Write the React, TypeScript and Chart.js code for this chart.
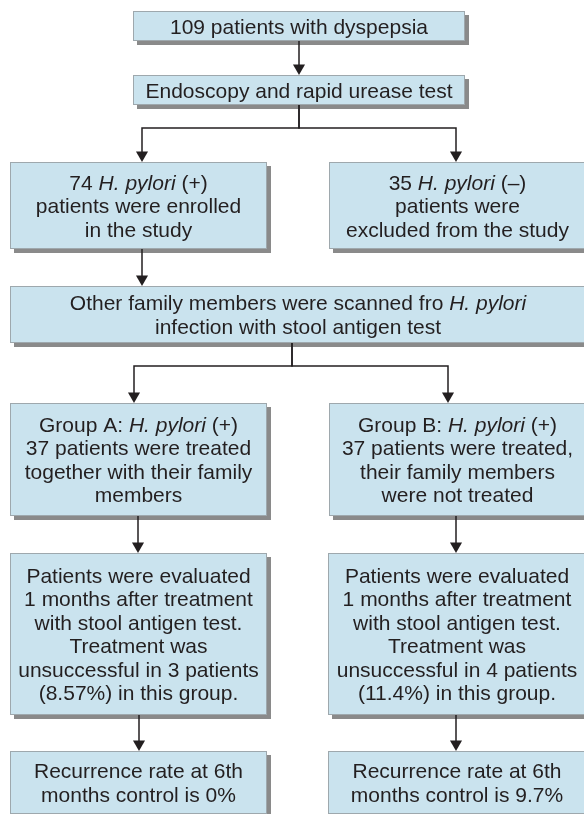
import React, { useEffect, useRef } from "react";
import { Chart, registerables } from "chart.js";

Chart.register(...registerables);

// ---------- CONTENT (text of each box; *...* = italic) ----------
const startBox = ["109 patients with dyspepsia"];
const testBox = ["Endoscopy and rapid urease test"];
const enrolledBox = ["74 *H. pylori* (+)", "patients were enrolled", "in the study"];
const excludedBox = ["35 *H. pylori* (–)", "patients were", "excluded from the study"];
const familyBox = ["Other family members were scanned fro *H. pylori*", "infection with stool antigen test"];
const groupABox = ["Group A: *H. pylori* (+)", "37 patients were treated", "together with their family", "members"];
const groupBBox = ["Group B: *H. pylori* (+)", "37 patients were treated,", "their family members", "were not treated"];
const evalABox = [
  "Patients were evaluated",
  "1 months after treatment",
  "with stool antigen test.",
  "Treatment was",
  "unsuccessful in 3 patients",
  "(8.57%) in this group.",
];
const evalBBox = [
  "Patients were evaluated",
  "1 months after treatment",
  "with stool antigen test.",
  "Treatment was",
  "unsuccessful in 4 patients",
  "(11.4%) in this group.",
];
const recurABox = ["Recurrence rate at 6th", "months control is 0%"];
const recurBBox = ["Recurrence rate at 6th", "months control is 9.7%"];

const boxTexts = [startBox, testBox, enrolledBox, excludedBox, familyBox, groupABox, groupBBox, evalABox, evalBBox, recurABox, recurBBox];

// ---------- LAYOUT (in scale units = page pixels) ----------
const BOX_X0 = [133, 133, 10, 329, 10, 10, 329, 10, 328, 10, 328];
const BOX_X1 = [465, 465, 267, 586, 586, 267, 586, 267, 586, 267, 586];
const BOX_Y0 = [11, 75, 162, 162, 286, 403, 403, 553, 553, 751, 751];
const BOX_Y1 = [41, 105, 249, 249, 343, 516, 516, 715, 715, 814, 814];

// edges: from box, to box, start x, end x, optional bus y
const EDGE_FROM = [0, 1, 1, 2, 4, 4, 5, 6, 7, 8];
const EDGE_TO = [1, 2, 3, 4, 5, 6, 7, 8, 9, 10];
const EDGE_X1 = [299, 299, 299, 142, 292, 292, 138, 456, 139, 456];
const EDGE_X2 = [299, 142, 456, 142, 134, 448, 138, 456, 139, 456];
const EDGE_BUS: (number | null)[] = [null, 128, 128, null, 366, 366, null, null, null, null];

// ---------- STYLE ----------
const FONT_FAMILY = '"Liberation Sans", Arial, Helvetica, sans-serif';
const FONT_SIZE = 21;
const LINE_H = 23.5;
const CAP = 0.716;
const INK = "#231f20";
const FILL = "#cae3ee";
const BORDER = "#9ea8ad";
const SHADOW = "#8a8a8a";
const SHADOW_OFF = 4;
const HEAD_R = 7;

function parseSegments(line: string) {
  const parts = line.split("*");
  return parts.map((t, i) => ({ text: t, italic: i % 2 === 1 })).filter((s) => s.text.length > 0);
}

const boxPlugin = {
  id: "flowBoxes",
  beforeDatasetsDraw(chart: any) {
    const { ctx, scales } = chart;
    const sx = scales.x;
    const sy = scales.y;
    ctx.save();
    for (let i = 0; i < boxTexts.length; i++) {
      const x0 = Math.round(sx.getPixelForValue(BOX_X0[i]));
      const x1 = Math.round(sx.getPixelForValue(BOX_X1[i]));
      const y0 = Math.round(sy.getPixelForValue(BOX_Y0[i]));
      const y1 = Math.round(sy.getPixelForValue(BOX_Y1[i]));
      const w = x1 - x0;
      const h = y1 - y0;
      // shadow
      ctx.fillStyle = SHADOW;
      ctx.fillRect(x0 + SHADOW_OFF, y0 + SHADOW_OFF, w, h);
      // box
      ctx.fillStyle = FILL;
      ctx.fillRect(x0, y0, w, h);
      ctx.strokeStyle = BORDER;
      ctx.lineWidth = 1;
      ctx.strokeRect(x0 + 0.5, y0 + 0.5, w - 1, h - 1);
      // text
      const lines = boxTexts[i];
      const cx = (x0 + x1) / 2;
      const cy = (y0 + y1) / 2;
      const n = lines.length;
      ctx.fillStyle = INK;
      ctx.textBaseline = "alphabetic";
      ctx.textAlign = "left";
      for (let k = 0; k < n; k++) {
        const baseY = cy + (CAP * FONT_SIZE) / 2 + (k - (n - 1) / 2) * LINE_H;
        const segs = parseSegments(lines[k]);
        let total = 0;
        const widths: number[] = [];
        for (const s of segs) {
          ctx.font = `${s.italic ? "italic " : ""}${FONT_SIZE}px ${FONT_FAMILY}`;
          const m = ctx.measureText(s.text).width;
          widths.push(m);
          total += m;
        }
        let x = cx - total / 2;
        segs.forEach((s, j) => {
          ctx.font = `${s.italic ? "italic " : ""}${FONT_SIZE}px ${FONT_FAMILY}`;
          ctx.fillText(s.text, x, baseY);
          x += widths[j];
        });
      }
    }
    ctx.restore();
  },
};

export default function App() {
  const ref = useRef<HTMLCanvasElement | null>(null);

  useEffect(() => {
    document.body.style.margin = "0";
    const canvas = ref.current;
    if (!canvas) return;

    const lineSets = EDGE_FROM.map((f, i) => {
      const t = EDGE_TO[i];
      const pts: { x: number; y: number }[] = [{ x: EDGE_X1[i], y: BOX_Y1[f] }];
      const bus = EDGE_BUS[i];
      if (bus !== null) {
        pts.push({ x: EDGE_X1[i], y: bus });
        pts.push({ x: EDGE_X2[i], y: bus });
      }
      pts.push({ x: EDGE_X2[i], y: BOX_Y0[t] - HEAD_R });
      return {
        type: "scatter" as const,
        data: pts,
        showLine: true,
        borderColor: INK,
        borderWidth: 1.5,
        pointRadius: 0,
        tension: 0,
        clip: false as any,
      };
    });

    const heads = {
      type: "scatter" as const,
      data: EDGE_TO.map((t, i) => ({ x: EDGE_X2[i], y: BOX_Y0[t] - HEAD_R })),
      pointStyle: "triangle",
      rotation: 180,
      pointRadius: HEAD_R,
      backgroundColor: INK,
      borderColor: INK,
      borderWidth: 0,
      showLine: false,
      clip: false as any,
    };

    const chart = new Chart(canvas, {
      type: "scatter",
      data: { datasets: [...lineSets, heads] as any },
      options: {
        responsive: false,
        animation: false,
        events: [],
        layout: { padding: 0, autoPadding: false },
        plugins: { legend: { display: false }, tooltip: { enabled: false } },
        scales: {
          x: { type: "linear", min: 0, max: 584, display: false },
          y: { type: "linear", min: 0, max: 814, reverse: true, display: false },
        },
      },
      plugins: [boxPlugin],
    });
    return () => chart.destroy();
  }, []);

  return (
    <div style={{ position: "absolute", left: 0, top: 0, width: 584, height: 814 }}>
      <canvas ref={ref} width={584} height={814} style={{ display: "block" }} />
    </div>
  );
}
